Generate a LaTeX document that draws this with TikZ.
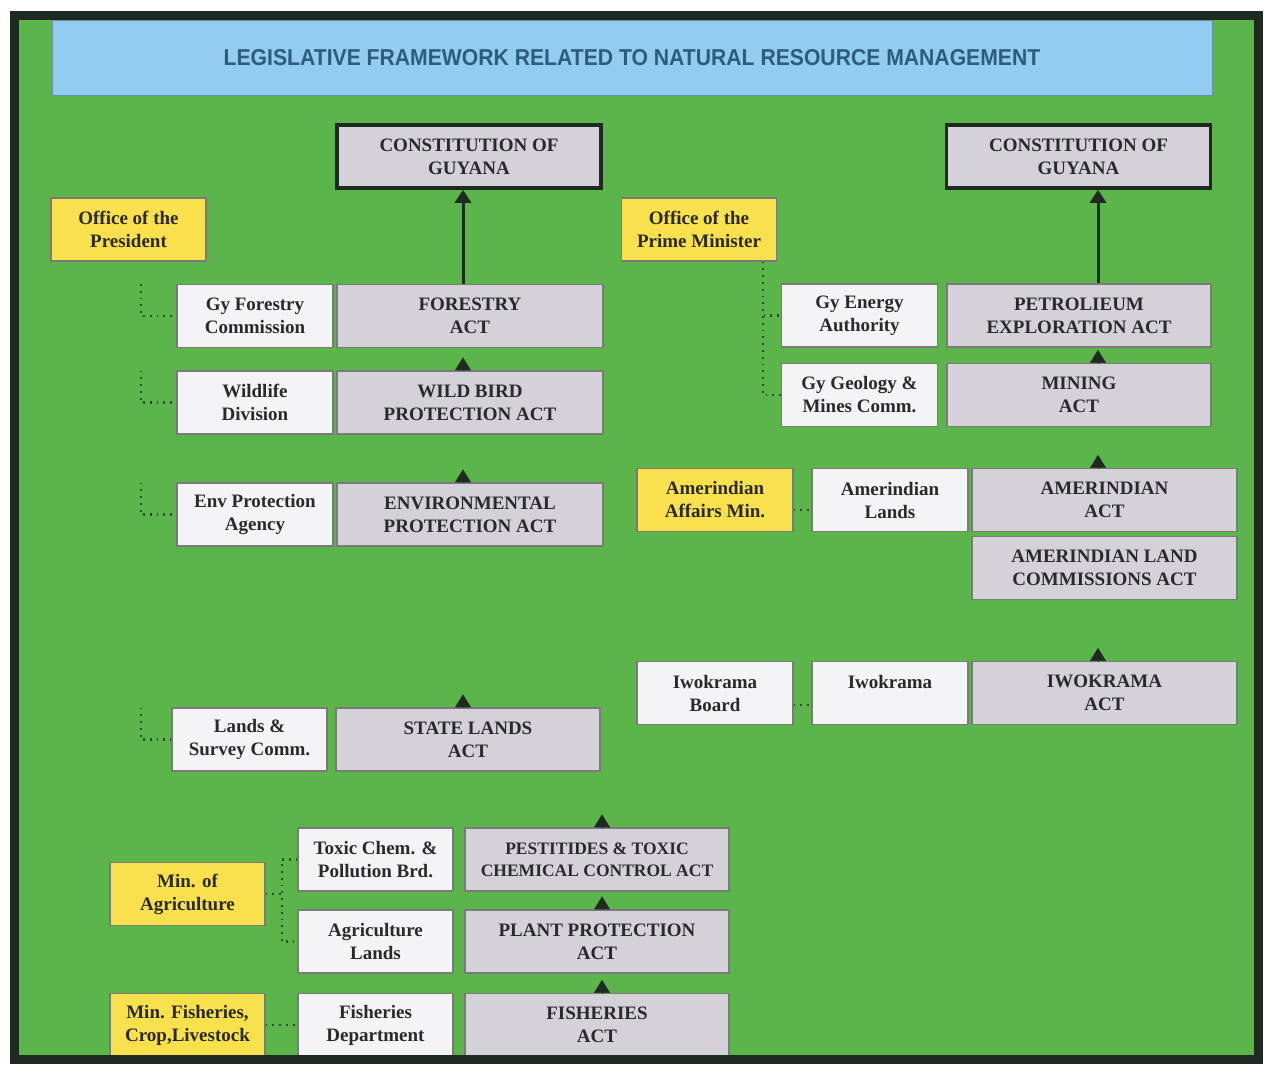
\documentclass[tikz,border=0pt]{standalone}
\usepackage{fontspec}
\setmainfont{Liberation Serif}
\newfontfamily\titlefont[FakeStretch=0.92]{Liberation Sans}
\usetikzlibrary{arrows.meta}

\definecolor{bggreen}{HTML}{5CB54B}
\definecolor{framedark}{HTML}{1F2A20}
\definecolor{titleblue}{HTML}{92CDF0}
\definecolor{titletext}{HTML}{2D5C80}
\definecolor{officeyellow}{HTML}{F8E14C}
\definecolor{agencywhite}{HTML}{F4F4F7}
\definecolor{actgray}{HTML}{D4D2D8}
\definecolor{boxline}{HTML}{7A7A7A}
\definecolor{boxtext}{HTML}{2A2A2A}
\definecolor{dotgray}{HTML}{2F4A2F}

\tikzset{
  box/.style={draw=boxline, line width=1.2pt, minimum height=63pt, inner sep=2pt,
    align=center, text=boxtext, font=\bfseries\fontsize{19}{23}\selectfont},
  agency/.style={box, fill=agencywhite, minimum width=156pt},
  act/.style={box, fill=actgray, minimum width=266pt},
  office/.style={box, fill=officeyellow, minimum width=155pt},
  constitution/.style={box, fill=actgray, draw=framedark, line width=3.5pt,
    minimum width=264pt, minimum height=63pt},
  titlebar/.style={fill=titleblue, draw=titleblue!70!black, line width=0.8pt,
    minimum width=1160pt, minimum height=75pt, inner sep=0pt, text=titletext,
    font=\titlefont\bfseries\fontsize{23}{26}\selectfont},
  dotline/.style={draw=dotgray, line width=2.2pt, dash pattern=on 1.8pt off 5pt},
  arrowup/.style={-{Triangle[width=16pt,length=13pt]}, draw=framedark, line width=3pt},
  tiponly/.style={-{Triangle[width=16pt,length=13pt]}, draw=framedark, line width=0.5pt}
}

\begin{document}
\begin{tikzpicture}[x=1pt,y=-1pt]
  \useasboundingbox[fill=white] (0,0) rectangle (1272,1065);
  \fill[bggreen] (14,15) rectangle (1259,1060);
  \node[titlebar] (title) at (632,57.5) {LEGISLATIVE FRAMEWORK RELATED TO NATURAL RESOURCE MANAGEMENT};

  \node[constitution] (constL) at (469,156.5) {CONSTITUTION OF\\GUYANA};
  \node[constitution] (constR) at (1078.5,156.5) {CONSTITUTION OF\\GUYANA};

  \node[office] (presOff) at (128.5,229.5) {Office of the\\President};
  \node[agency] (gyForest) at (255,316) {Gy Forestry\\Commission};
  \node[act] (forestAct) at (470,316) {FORESTRY\\ACT};
  \node[agency] (wildlife) at (255,402.5) {Wildlife\\Division};
  \node[act] (wildBird) at (470,402.5) {WILD BIRD\\PROTECTION ACT};
  \node[agency] (envAgency) at (255,514.5) {Env Protection\\Agency};
  \node[act] (envAct) at (470,514.5) {ENVIRONMENTAL\\PROTECTION ACT};
  \node[agency, minimum width=155pt] (landsSurvey) at (249.5,739.5) {Lands \&\\Survey Comm.};
  \node[act, minimum width=264pt] (stateLands) at (468,739.5) {STATE LANDS\\ACT};

  \node[office] (pmOff) at (699,229.5) {Office of the\\Prime Minister};
  \node[agency] (gyEnergy) at (859.5,315.5) {Gy Energy\\Authority};
  \node[act, minimum width=264pt] (petroleum) at (1079,315.5) {PETROLIEUM\\EXPLORATION ACT};
  \node[agency] (gyGeology) at (859.5,395) {Gy Geology \&\\Mines Comm.};
  \node[act, minimum width=264pt] (mining) at (1079,395) {MINING\\ACT};
  \node[office, minimum width=156pt] (amerAffairs) at (715,500) {Amerindian\\Affairs Min.};
  \node[agency] (amerLands) at (890,500) {Amerindian\\Lands};
  \node[act, minimum width=265pt] (amerAct) at (1104.5,500) {AMERINDIAN\\ACT};
  \node[act, minimum width=265pt] (amerLandAct) at (1104.5,568) {AMERINDIAN LAND\\COMMISSIONS ACT};
  \node[agency] (iwoBoard) at (715,693) {Iwokrama\\Board};
  \node[agency] (iwokrama) at (890,693) {Iwokrama\\\phantom{I}};
  \node[act, minimum width=265pt] (iwoAct) at (1104.5,693) {IWOKRAMA\\ACT};

  \node[office] (minAgri) at (187.5,894) {Min. of\\Agriculture};
  \node[agency, minimum width=155pt] (toxicBoard) at (375.5,859.5) {Toxic Chem. \&\\Pollution Brd.};
  \node[act, minimum width=264pt, font=\bfseries\fontsize{17.5}{22}\selectfont] (pestAct) at (597,859.5) {PESTITIDES \& TOXIC\\CHEMICAL CONTROL ACT};
  \node[agency, minimum width=155pt] (agriLands) at (375.5,941.5) {Agriculture\\Lands};
  \node[act, minimum width=264pt] (plantAct) at (597,941.5) {PLANT PROTECTION\\ACT};
  \node[office] (minFish) at (187.5,1025) {Min. Fisheries,\\Crop,Livestock};
  \node[agency, minimum width=155pt] (fishDept) at (375.5,1025) {Fisheries\\Department};
  \node[act, minimum width=264pt] (fishAct) at (597,1025) {FISHERIES\\ACT};

  \draw[arrowup] ([xshift=-7pt]forestAct.north) -- ([xshift=-7pt]forestAct.north |- constL.south);
  \draw[arrowup] ([xshift=19pt]petroleum.north) -- ([xshift=19pt]petroleum.north |- constR.south);
  \foreach \n/\dx in {wildBird/-7, envAct/-7, stateLands/-5, mining/19, amerAct/-6.5,
    iwoAct/-6.5, pestAct/5, plantAct/5, fishAct/5}
    \draw[tiponly] ([xshift=\dx pt]\n.north) -- ++(0,-13);

  \coordinate (presLine) at (141,0);
  \foreach \n in {gyForest,wildlife,envAgency,landsSurvey}
    \draw[dotline] ([yshift=32pt]presLine |- \n.west) |- (\n.west);
  \coordinate (pmLine) at ([xshift=64pt]pmOff.south);
  \draw[dotline] (pmLine) |- (gyEnergy.west);
  \draw[dotline] (pmLine) |- (gyGeology.west);
  \draw[dotline] ([yshift=-10pt]amerAffairs.east) -- ([yshift=-10pt]amerLands.west);
  \draw[dotline] ([yshift=-12pt]iwoBoard.east) -- ([yshift=-12pt]iwokrama.west);
  \coordinate (agriLine) at ([xshift=16pt]minAgri.east);
  \draw[dotline] (minAgri.east) -- (agriLine);
  \draw[dotline] (toxicBoard.west) -| (agriLine) |- (agriLands.west);
  \draw[dotline] (minFish) -- (fishDept);

  \draw[framedark, line width=9pt] (14.5,15.5) rectangle (1258.5,1059.5);
\end{tikzpicture}
\end{document}
